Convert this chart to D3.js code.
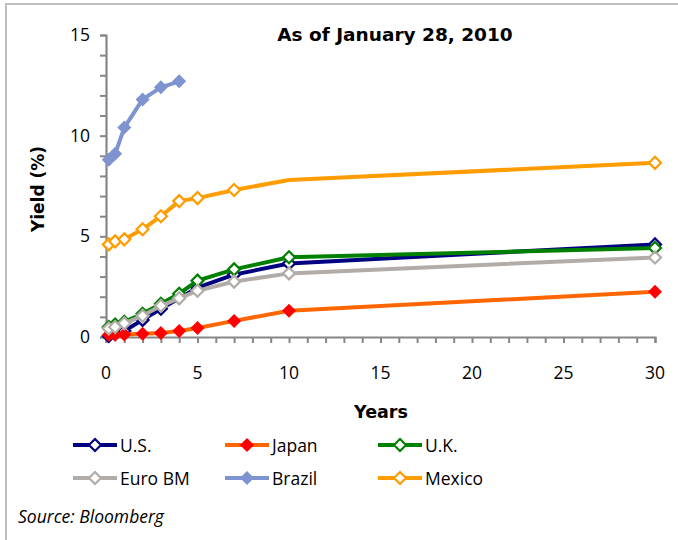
<!DOCTYPE html>
<html><head><meta charset="utf-8">
<script src="https://cdn.jsdelivr.net/npm/d3@7"></script>
<style>body{margin:0;background:#fff}svg{display:block}text{font-family:"Open Sans",sans-serif}</style>
</head><body><svg id="c" width="678" height="540"></svg>
<script>
const title = "As of January 28, 2010";
const source = "Source: Bloomberg";
const xTicks = [0, 5, 10, 15, 20, 25, 30];
const yTicks = [0, 5, 10, 15];
const seriesNames = ["U.S.", "Japan", "U.K.", "Euro BM", "Brazil", "Mexico"];
const usX = [0.15, 0.5, 1, 2, 3, 5, 7, 10, 30];
const usY = [0.05, 0.15, 0.3, 0.85, 1.4, 2.45, 3.1, 3.65, 4.6];
const japanX = [0.15, 0.5, 1, 2, 3, 4, 5, 7, 10, 30];
const japanY = [0.1, 0.11, 0.12, 0.16, 0.2, 0.3, 0.45, 0.8, 1.3, 2.25];
const ukX = [0.15, 0.5, 1, 2, 3, 4, 5, 7, 10, 30];
const ukY = [0.5, 0.62, 0.75, 1.15, 1.65, 2.15, 2.8, 3.36, 3.96, 4.42];
const euroX = [0.15, 0.5, 1, 2, 3, 4, 5, 7, 10, 30];
const euroY = [0.42, 0.5, 0.68, 1.05, 1.55, 1.92, 2.3, 2.75, 3.16, 3.95];
const brazilX = [0.15, 0.5, 1, 2, 3, 4];
const brazilY = [8.8, 9.1, 10.4, 11.8, 12.4, 12.7];
const mexicoX = [0.15, 0.5, 1, 2, 3, 4, 5, 7, 10, 30];
const mexicoY = [4.6, 4.75, 4.85, 5.35, 6.0, 6.75, 6.9, 7.3, 7.8, 8.65];
const mexicoMarkerShown = [true, true, true, true, true, true, true, true, false, true];

const svg = d3.select("#c");
const x = d3.scaleLinear().domain([0, 30]).range([106, 655]);
const y = d3.scaleLinear().domain([0, 15]).range([337, 35]);
const boldFont = "'DejaVu Sans', sans-serif";

// frame
svg.append("rect").attr("x", 6).attr("y", 4).attr("width", 700).attr("height", 560)
  .attr("fill", "none").attr("stroke", "#bfbfbf").attr("stroke-width", 2);

const series = [
  {name: seriesNames[0], xs: usX, ys: usY, line: "#000080", mk: "#000080", fill: "#fff"},
  {name: seriesNames[1], xs: japanX, ys: japanY, line: "#ff6600", mk: "#ff0000", fill: "#ff0000"},
  {name: seriesNames[2], xs: ukX, ys: ukY, line: "#008000", mk: "#008000", fill: "#fff"},
  {name: seriesNames[3], xs: euroX, ys: euroY, line: "#b2aca8", mk: "#b2aca8", fill: "#fff"},
  {name: seriesNames[4], xs: brazilX, ys: brazilY, line: "#7f93d0", mk: "#7f93d0", fill: "#7f93d0"},
  {name: seriesNames[5], xs: mexicoX, ys: mexicoY, line: "#ff9c00", mk: "#ff9c00", fill: "#fff", shown: mexicoMarkerShown}
];

// axes
const gx = svg.append("g").attr("transform", `translate(0,${y(0)})`)
  .call(d3.axisBottom(x).tickValues(d3.range(0, 31, 1)).tickSize(6).tickFormat(""));
const gy = svg.append("g").attr("transform", `translate(${x(0)},0)`)
  .call(d3.axisLeft(y).tickValues(d3.range(0, 16, 1)).tickSize(6).tickFormat(""));
[gx, gy].forEach(g => {
  g.selectAll("path").attr("stroke", "#868686").attr("stroke-width", 2.2);
  g.selectAll("line").attr("stroke", "#868686").attr("stroke-width", 2);
});
svg.append("g").selectAll("text").data(xTicks).join("text")
  .attr("x", d => x(d)).attr("y", 379).attr("text-anchor", "middle")
  .attr("font-size", 17.5).text(d => d);
svg.append("g").selectAll("text").data(yTicks).join("text")
  .attr("x", 90).attr("y", d => y(d) + 6).attr("text-anchor", "end")
  .attr("font-size", 17.5).text(d => d);

svg.append("text").attr("x", 395).attr("y", 41).attr("text-anchor", "middle")
  .style("font-family", boldFont).attr("font-size", 18.5).attr("font-weight", "bold").text(title);
svg.append("text").attr("x", 381).attr("y", 418).attr("text-anchor", "middle")
  .style("font-family", boldFont).attr("font-size", 17.5).attr("font-weight", "bold").text("Years");
svg.append("text").attr("transform", "translate(44,189) rotate(-90)").attr("text-anchor", "middle")
  .style("font-family", boldFont).attr("font-size", 17).attr("font-weight", "bold").text("Yield (%)");

function diamondPath(r) {
  return `M0,${-r}L${r},0L0,${r}L${-r},0Z`;
}
const line = d3.line().x(d => x(d[0])).y(d => y(d[1]));

series.forEach(s => {
  const pts = s.xs.map((v, i) => [v, s.ys[i], s.shown ? s.shown[i] : true]);
  const g = svg.append("g");
  g.append("path").attr("d", line(pts)).attr("fill", "none")
    .attr("stroke", s.line).attr("stroke-width", 4).attr("stroke-linejoin", "round");
  const filled = s.fill !== "#fff";
  g.selectAll("path.m").data(pts.filter(p => p[2])).join("path").attr("class", "m")
    .attr("transform", p => `translate(${x(p[0])},${y(p[1])})`)
    .attr("d", diamondPath(filled ? 7 : 6))
    .attr("fill", s.fill).attr("stroke", s.mk).attr("stroke-width", filled ? 0 : 2.2);
});

// legend
const legPos = [[73, 445], [225, 445], [378, 445], [73, 478], [225, 478], [378, 478]];
series.forEach((s, i) => {
  const [lx, ly] = legPos[i];
  const g = svg.append("g");
  g.append("line").attr("x1", lx).attr("x2", lx + 44).attr("y1", ly).attr("y2", ly)
    .attr("stroke", s.line).attr("stroke-width", 4);
  const filled = s.fill !== "#fff";
  g.append("path").attr("transform", `translate(${lx + 22},${ly})`)
    .attr("d", diamondPath(filled ? 7 : 6))
    .attr("fill", s.fill).attr("stroke", s.mk).attr("stroke-width", filled ? 0 : 2.2);
  g.append("text").attr("x", lx + 47).attr("y", ly + 7).attr("font-size", 17.5).text(s.name);
});

svg.append("text").attr("x", 18).attr("y", 523).attr("font-size", 17.5)
  .attr("font-style", "italic").text(source);
</script></body></html>
